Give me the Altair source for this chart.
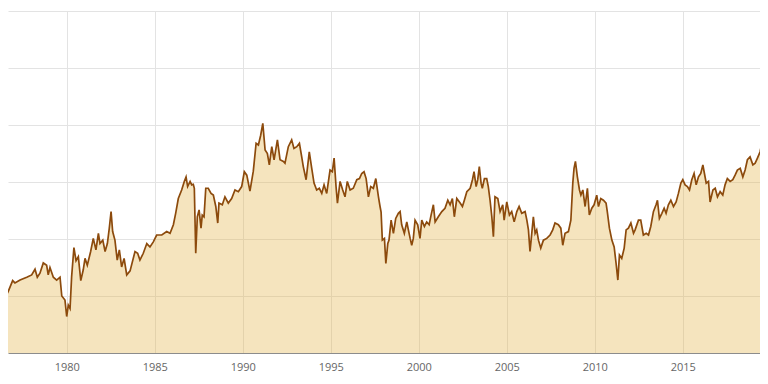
import altair as alt
import pandas as pd

years = [1976.21, 1976.40, 1976.55, 1976.68, 1976.93, 1977.06, 1977.35, 1977.73, 1978.01, 1978.20, 1978.33, 1978.48,
         1978.67, 1978.86, 1978.95, 1979.05, 1979.24, 1979.43, 1979.62, 1979.72, 1979.90, 1980.00, 1980.09, 1980.19,
         1980.28, 1980.41, 1980.53, 1980.66, 1980.80, 1980.94, 1981.04, 1981.17, 1981.36, 1981.51, 1981.66, 1981.80,
         1981.89, 1982.05, 1982.18, 1982.31, 1982.42, 1982.52, 1982.61, 1982.74, 1982.87, 1982.99, 1983.12, 1983.26,
         1983.41, 1983.60,
         1983.88, 1984.03, 1984.16, 1984.35, 1984.55, 1984.73, 1984.92,
         1985.11, 1985.40, 1985.68, 1985.87, 1986.06, 1986.19, 1986.34, 1986.53, 1986.68, 1986.78, 1986.87, 1987.01,
         1987.10, 1987.19, 1987.25,
         1987.33, 1987.42, 1987.52, 1987.63, 1987.70, 1987.80, 1987.90, 1988.04, 1988.20, 1988.33, 1988.47, 1988.58,
         1988.65, 1988.84, 1988.99, 1989.18, 1989.37, 1989.56, 1989.75, 1989.94, 1990.09, 1990.23, 1990.41,
         1990.60, 1990.76, 1990.89, 1991.02, 1991.14, 1991.27, 1991.40, 1991.51, 1991.65, 1991.78, 1991.97, 1992.12,
         1992.31, 1992.40, 1992.59, 1992.78, 1992.91, 1993.07, 1993.22, 1993.35, 1993.44, 1993.60, 1993.78, 1993.92,
         1994.05, 1994.20, 1994.35, 1994.49, 1994.62, 1994.77,
         1994.96, 1995.09, 1995.19, 1995.30, 1995.38, 1995.53, 1995.68, 1995.81, 1995.94, 1996.10, 1996.28, 1996.48,
         1996.63, 1996.76, 1996.89, 1997.01, 1997.14, 1997.27, 1997.42, 1997.56, 1997.71, 1997.80,
         1997.86, 1997.93, 1998.05, 1998.13, 1998.24, 1998.31, 1998.43, 1998.56, 1998.69, 1998.84, 1998.94, 1999.03,
         1999.18, 1999.32, 1999.41, 1999.51, 1999.60, 1999.69, 1999.79, 1999.94, 2000.07, 2000.17,
         2000.32, 2000.45, 2000.59, 2000.70, 2000.83, 2000.93, 2001.11, 2001.31, 2001.49, 2001.65, 2001.78, 2001.91,
         2002.02, 2002.16, 2002.35, 2002.48, 2002.59, 2002.73, 2002.92, 2003.05, 2003.14, 2003.26, 2003.35, 2003.44,
         2003.54, 2003.61, 2003.73, 2003.86, 2003.95, 2004.05,
         2004.15, 2004.24, 2004.33, 2004.49, 2004.62, 2004.77, 2004.85, 2005.00, 2005.15, 2005.28, 2005.42, 2005.57,
         2005.70, 2005.85, 2006.04, 2006.14, 2006.23, 2006.32, 2006.42, 2006.51, 2006.61, 2006.70, 2006.80, 2006.93,
         2007.08, 2007.27, 2007.46, 2007.61, 2007.74, 2007.93,
         2008.07, 2008.18, 2008.31, 2008.50, 2008.64, 2008.75, 2008.82, 2008.90, 2009.01, 2009.13, 2009.21, 2009.32,
         2009.45, 2009.58, 2009.69, 2009.83, 2009.96, 2010.11, 2010.21, 2010.34, 2010.49, 2010.64, 2010.71, 2010.83,
         2010.97, 2011.10, 2011.21, 2011.31, 2011.40, 2011.53, 2011.67, 2011.78, 2011.91, 2012.05, 2012.20,
         2012.29, 2012.48, 2012.61, 2012.76, 2012.92, 2013.05, 2013.18, 2013.33, 2013.48, 2013.56, 2013.67, 2013.81,
         2013.94, 2014.05, 2014.18, 2014.32, 2014.47, 2014.62, 2014.75, 2014.89, 2015.00, 2015.13, 2015.26, 2015.38,
         2015.51, 2015.64, 2015.76, 2015.89, 2016.02, 2016.14, 2016.21, 2016.33, 2016.46, 2016.55, 2016.71,
         2016.84, 2016.97, 2017.12, 2017.27, 2017.40, 2017.53, 2017.69, 2017.84, 2017.97, 2018.10, 2018.26, 2018.41,
         2018.54, 2018.67, 2018.82, 2018.98, 2019.11, 2019.24, 2019.39, 2019.51, 2019.62, 2019.69, 2019.77, 2019.85,
         2020.00]

values = [13.1, 11.6, 10.0, 10.8, 12.7, 12.3, 12.8, 13.3, 13.7, 14.7, 13.3, 14.0, 15.8, 15.4, 13.7, 15.0, 13.3, 12.8,
          13.3, 10.0, 9.3, 6.4, 8.4, 7.8,
          13.4, 18.5, 16.2, 16.9, 12.7, 14.6, 16.6, 15.4, 17.8, 20.1, 18.1, 21.0, 19.2, 19.8, 17.8, 19.2, 21.9, 24.8,
          21.3, 19.8, 16.3, 18.1, 15.1, 16.6,
          13.7, 14.4,
          17.8, 17.5, 16.3, 17.5, 19.2, 18.6, 19.5,
          20.7, 20.7, 21.3, 21.0, 22.5, 24.5, 27.1, 28.6, 30.1, 30.9, 29.2, 30.1, 29.5, 29.6, 28.9,
          17.5, 23.9, 25.1, 21.9, 24.2, 23.9, 28.9, 28.9, 28.0, 27.7, 25.7, 22.8, 26.3, 26.0, 27.4, 26.3, 27.1, 28.6,
          28.3, 29.2, 31.8, 31.2, 28.4,
          31.9, 36.8, 36.5, 38.2, 40.3, 35.6, 35.0, 33.0, 36.2, 33.9, 37.4, 33.9, 33.6, 33.3, 36.2, 37.4, 35.9, 36.2,
          36.8, 34.4, 32.7, 30.4, 35.3, 32.4, 29.8, 28.6, 28.9, 28.0, 29.5, 28.0,
          32.1, 31.8, 34.2, 29.2, 26.3, 30.1, 28.6, 27.4, 30.1, 28.6, 28.9, 30.4, 30.6, 31.5, 31.8, 30.6, 27.4, 29.2,
          28.9, 30.6, 27.4, 25.7,
          24.7, 19.8, 20.1, 15.7, 19.2, 19.8, 23.3, 21.0, 23.6, 24.5, 24.8, 22.5, 21.0, 23.0, 21.6, 20.1, 18.9, 20.1,
          23.3, 22.5, 20.1, 23.3,
          22.2, 23.0, 22.5, 24.2, 26.0, 23.0, 23.9, 24.8, 25.4, 26.8, 26.0, 27.1, 23.9, 27.1, 26.3, 25.7, 26.8, 28.3,
          28.9, 30.4, 31.8, 29.2, 30.4, 32.7, 29.8, 28.9, 30.6, 30.6, 29.2, 26.8,
          23.9, 20.4, 27.4, 27.1, 24.8, 26.0, 23.3, 26.5, 24.2, 24.8, 23.0, 24.8, 25.7, 24.5, 24.8, 23.3, 21.6, 17.8,
          21.0, 23.9, 21.0, 21.6, 19.8, 18.4, 19.8, 20.1, 20.7, 21.6, 22.8, 22.5,
          21.9, 18.9, 21.0, 21.3, 23.3, 29.8, 32.4, 33.6, 30.9, 28.6, 27.7, 28.6, 25.7, 28.9, 24.2, 25.4, 26.0, 27.7,
          25.7, 27.1, 26.8, 26.3, 24.8, 21.9, 19.8, 18.6, 15.7, 12.8, 17.2, 16.6, 18.4, 21.6, 21.9, 22.8, 21.0,
          21.6, 23.3, 23.3, 20.7, 21.0, 20.7, 22.2, 24.8, 26.0, 26.8, 23.6, 24.5, 25.4, 24.5, 26.0, 26.8, 25.7, 26.5,
          28.0, 29.8, 30.4, 29.5, 29.2, 28.6, 30.4, 31.5, 29.5, 30.9, 31.5, 33.0, 31.8, 29.8, 30.1, 26.5, 28.6,
          28.9, 27.4, 28.3, 27.7, 29.5, 30.6, 30.1, 30.4, 31.2, 32.1, 32.4, 30.9, 32.1, 33.9, 34.4, 33.0, 33.3, 34.2,
          35.3, 37.1, 35.3, 32.1, 33.9, 33.6, 34.0]

x_ticks = [1980, 1985, 1990, 1995, 2000, 2005, 2010, 2015, 2020]
y_ticks = [10, 20, 30, 40, 50, 60]

assert len(years) == len(values), (len(years), len(values))

df = pd.DataFrame({"year": years, "value": values})

x_enc = alt.X("year:Q",
              scale=alt.Scale(domain=[1976.665, 2019.385], nice=False, zero=False),
              axis=alt.Axis(values=x_ticks, format="d", title=None, grid=True,
                            gridColor="#e3e3e3", gridWidth=1,
                            domainColor="#8c8c8c", domainWidth=1.2,
                            ticks=False, tickSize=0, labelPadding=8, labelFlush=False,
                            labelFont="Open Sans", labelFontSize=11, labelColor="#666666"))
y_enc = alt.Y("value:Q",
              scale=alt.Scale(domain=[0, 60], nice=False),
              axis=alt.Axis(values=y_ticks, title=None, labels=False, ticks=False, domain=False,
                            grid=True, gridColor="#e3e3e3", gridWidth=1))

area = alt.Chart(df).mark_area(color="#e2b245", opacity=0.35, clip=True).encode(x=x_enc, y=y_enc)
line = alt.Chart(df).mark_line(color="#8c4a0c", strokeWidth=1.7, clip=True).encode(x="year:Q", y="value:Q")

chart = alt.layer(area, line).properties(
    width=752, height=342,
    autosize=alt.AutoSizeParams(type="none"),
    padding={"left": 0, "top": 3, "right": 0, "bottom": 22},
).configure_view(stroke=None)

chart.save("out.html", embed_options={"renderer": "svg", "actions": False})
